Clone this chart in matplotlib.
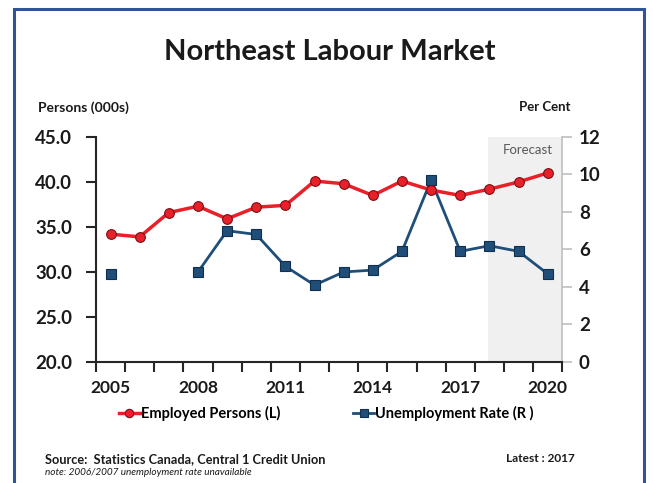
import numpy as np
import matplotlib.pyplot as plt
from matplotlib.patches import Rectangle
from matplotlib.lines import Line2D

plt.rcParams['font.family'] = ['Lato', 'DejaVu Sans']

years = list(range(2005, 2021))
employed = [34.2, 33.9, 36.6, 37.3, 35.9, 37.2, 37.4, 40.1, 39.8, 38.5,
            40.1, 39.1, 38.5, 39.2, 40.0, 41.0]
# 2006/2007 unemployment rate not available
unemp = [4.7, np.nan, np.nan, 4.8, 7.0, 6.8, 5.1, 4.1, 4.8, 4.9,
         5.9, 9.7, 5.9, 6.2, 5.9, 4.7]
year_labels = ['2005', '2008', '2011', '2014', '2017', '2020']
forecast_start = 2018

red = '#E8202A'
navy = '#1F4E79'

fig = plt.figure(figsize=(6.53, 4.83), dpi=100)
ax = fig.add_axes([0.147, 0.2505, 0.714, 0.466])
ax2 = ax.twinx()
ax.set_zorder(ax2.get_zorder() + 1)
ax.patch.set_visible(False)

x = np.arange(len(years))
fc = years.index(forecast_start) - 0.05
ax2.axvspan(fc, len(years) - 0.5, color='#F0F0F0', zorder=0, lw=0)

# unemployment (right axis); the 2005 point stands alone
ax2.plot(x, unemp, '-', color=navy, lw=2, zorder=2)
ax2.plot(x, unemp, 's', color=navy, ms=7, mec='#10304F', mew=0.8, zorder=3)
ax.plot(x, employed, '-o', color=red, lw=2.5, ms=7, mec='#7A1015', mew=0.8, zorder=3)

ax.set_xlim(-0.5, len(years) - 0.5)
ax.set_ylim(20, 45)
ax2.set_ylim(0, 12)
ax.set_yticks(np.arange(20, 46, 5))
ax.set_yticklabels(['%.1f' % v for v in np.arange(20, 46, 5)])
ax2.set_yticks(np.arange(0, 13, 2))

ax.set_xticks(np.arange(len(years) + 1) - 0.5)
ax.set_xticklabels([])
ax.set_xticks([years.index(int(y)) for y in year_labels], minor=True)
ax.set_xticklabels(year_labels, minor=True)
ax.tick_params(axis='x', which='minor', length=0, pad=13)
ax.tick_params(axis='x', which='major', direction='out', length=7, width=1.5, color='#262626')
ax.tick_params(axis='y', direction='out', length=7, width=1.5, color='#262626', pad=10)
ax2.tick_params(axis='y', direction='out', length=7, width=1.2, color='#BFBFBF', pad=5)

for lab in ax.get_xticklabels(minor=True) + ax.get_yticklabels() + ax2.get_yticklabels():
    lab.set_fontsize(13.5)
    lab.set_fontweight('bold')
    lab.set_color('#1A1A1A')
for lab in ax.get_xticklabels(minor=True):
    lab.set_fontsize(12.5)

for s in ['top']:
    ax.spines[s].set_visible(False)
    ax2.spines[s].set_visible(False)
ax.spines['right'].set_visible(False)
ax2.spines['left'].set_visible(False)
ax2.spines['bottom'].set_visible(False)
ax.spines['left'].set_linewidth(1.5)
ax.spines['left'].set_color('#262626')
ax.spines['bottom'].set_linewidth(1.5)
ax.spines['bottom'].set_color('#262626')
ax2.spines['right'].set_color('#BFBFBF')
ax2.spines['right'].set_linewidth(1.2)

ax.text(0.98, 0.942, 'Forecast', transform=ax.transAxes, ha='right', va='center',
        fontsize=9.5, color='#595959')

fig.text(0.505, 0.892, 'Northeast Labour Market', ha='center', va='center',
         fontsize=21, fontweight='bold', color='#1A1A1A')
fig.text(0.058, 0.778, 'Persons (000s)', ha='left', va='center',
         fontsize=10, fontweight='bold', color='#1A1A1A')
fig.text(0.873, 0.778, 'Per Cent', ha='right', va='center',
         fontsize=9.5, fontweight='bold', color='#1A1A1A')

handles = [Line2D([], [], color=red, lw=2.5, marker='o', ms=6, mec='#7A1015', mew=0.8),
           Line2D([], [], color=navy, lw=2, marker='s', ms=6, mec='#10304F', mew=0.8)]
fig.legend(handles, ['Employed Persons (L)', 'Unemployment Rate (R )'],
           loc='center', bbox_to_anchor=(0.5, 0.143), ncol=2, frameon=False,
           prop={'weight': 'bold', 'size': 10.5}, handlelength=1.4,
           handletextpad=0.1, columnspacing=5.0)

fig.text(0.069, 0.05, 'Source:  Statistics Canada, Central 1 Credit Union',
         ha='left', va='center', fontsize=9.2, fontweight='bold', color='#1A1A1A')
fig.text(0.88, 0.05, 'Latest : 2017', ha='right', va='center',
         fontsize=8.6, fontweight='bold', color='#1A1A1A')
fig.text(0.069, 0.021, 'note: 2006/2007 unemployment rate unavailable',
         ha='left', va='center', fontsize=7.2, style='italic', color='#1A1A1A')

fig.patches.append(Rectangle((0.0214, -0.05), 0.965, 1.031, transform=fig.transFigure,
                             fill=False, ec='#2F5597', lw=2.2))

fig.savefig('out.png', dpi=100)
